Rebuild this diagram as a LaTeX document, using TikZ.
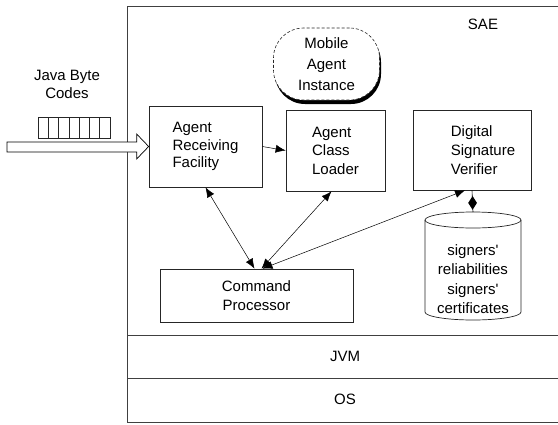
\documentclass[tikz,border=0pt]{standalone}
\usepackage{fontspec}
\setmainfont{Liberation Sans}
\usetikzlibrary{arrows.meta,shapes.geometric,calc,shadows}
\begin{document}
\begin{tikzpicture}[x=1pt,y=-1pt,
  every node/.style={font=\fontsize{15}{18}\selectfont},
  box/.style={draw=black!85, line width=0.7pt, inner sep=0pt},
  link/.style={line width=0.5pt, {Latex[length=10pt,width=8pt]}-{Latex[length=10pt,width=8pt]}},
  oneway/.style={line width=0.5pt, -{Latex[length=10pt,width=8pt]}},
  frame/.style={draw=black!75, line width=0.8pt}]
\useasboundingbox (0,0) rectangle (558,424);

% SAE frame and layers
\draw[frame] (558,6) -- (127,6) -- (127,422) -- (558,422);
\draw[frame] (127,335) -- (558,335);
\draw[frame] (127,378) -- (558,378);
\node (sae) at (483,24) {SAE};
\node (jvm) at (345,356) {JVM};
\node (os) at (345,399) {OS};

% Mobile agent instance
\node[draw=black!85, line width=0.6pt, dash pattern=on 3pt off 2pt, rounded corners=30pt,
      fill=white, minimum width=106pt, minimum height=72pt, align=center,
      font=\fontsize{15}{21}\selectfont,
      drop shadow={shadow xshift=1.5pt, shadow yshift=-4pt, opacity=1, fill=black}]
  (mai) at (326.5,64) {Mobile\\Agent\\Instance};

% boxes
\node[box, minimum width=113pt, minimum height=81pt, align=left, font=\fontsize{15}{17.5}\selectfont]
  (arf) at (205.5,146.5) {Agent\\Receiving\\Facility};
\node[box, minimum width=99pt, minimum height=81pt, align=left, font=\fontsize{15}{18.5}\selectfont]
  (acl) at (335.5,150.5) {Agent\\Class\\Loader};
\node[box, minimum width=118pt, minimum height=80pt,
  label={[xshift=11pt, align=left, font=\fontsize{15}{19}\selectfont]center:Digital\\Signature\\Verifier}]
  (dsv) at (472,150) {};
\node[box, minimum width=193pt, minimum height=53pt, align=center, font=\fontsize{15}{19}\selectfont]
  (cp) at (256.5,295.5) {Command\\Processor};

% database cylinder
\draw[box] (473,220) ellipse [x radius=48pt, y radius=8pt];
\draw[box] (425,220) -- (425,312) arc[start angle=180, end angle=360, x radius=48pt, y radius=8pt] -- (521,220);
\node[align=center, font=\fontsize{15}{19.5}\selectfont] (db) at (473,279)
  {signers\textquotesingle\\reliabilities\\signers\textquotesingle\\certificates};
\coordinate (dbtop) at (473,212);

% Java byte codes input
\node[align=center] (jbc) at (67,84) {Java Byte\\Codes};
\draw[box] (38,117) rectangle (110,138);
\foreach \i in {1,...,6} \draw[line width=0.6pt, black!85] (38+\i*72/7,117) -- ++(0,21);
\coordinate (tip) at (arf.west);
\draw[line width=0.7pt, fill=white] (tip) -- ++(-12,-12.5) -- ++(0,8) -- (7,142) -- (7,152)
  -- ($(tip)+(-12,5.5)$) -- ++(0,7) -- cycle;

% connectors
\draw[oneway] (arf.east) -- (acl.west);
\draw[link] (arf.south) -- ($(cp.north)+(-2,0)$);
\draw[link] ($(acl.south)+(-4,0)$) -- ($(cp.north)+(5,0)$);
\draw[link] ($(dsv.south)+(-7,0)$) -- ($(cp.north)+(6,0)$);
\draw[line width=0.6pt] (dbtop) -- (dsv.south)
  node[pos=0.42, diamond, fill=black, inner sep=0pt, minimum width=9pt, minimum height=14pt] {};
\end{tikzpicture}
\end{document}
